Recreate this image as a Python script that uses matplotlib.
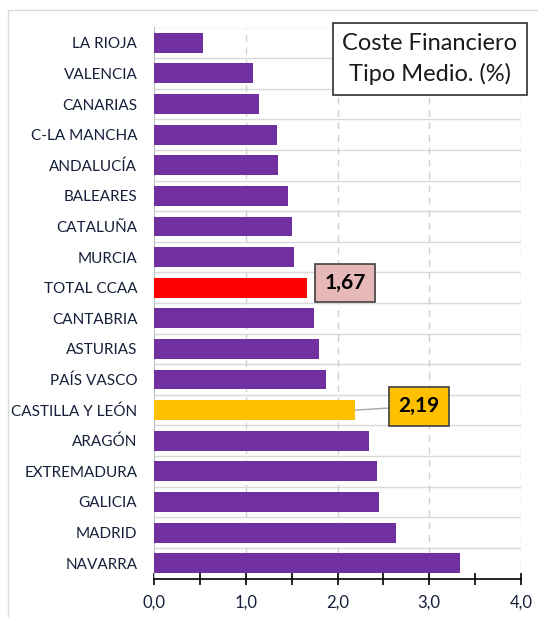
import matplotlib.pyplot as plt
from matplotlib.patches import Rectangle
from matplotlib.ticker import MultipleLocator, FuncFormatter

regiones = ['LA RIOJA', 'VALENCIA', 'CANARIAS', 'C-LA MANCHA', 'ANDALUCÍA',
            'BALEARES', 'CATALUÑA', 'MURCIA', 'TOTAL CCAA', 'CANTABRIA',
            'ASTURIAS', 'PAÍS VASCO', 'CASTILLA Y LEÓN', 'ARAGÓN',
            'EXTREMADURA', 'GALICIA', 'MADRID', 'NAVARRA']
tipo_medio = [0.53, 1.08, 1.14, 1.34, 1.35, 1.46, 1.50, 1.53, 1.67, 1.74,
              1.80, 1.88, 2.19, 2.34, 2.43, 2.45, 2.64, 3.34]

PURPLE = '#7030A0'
LABEL_COLOR = '#17203a'
colores = [PURPLE] * len(regiones)
colores[regiones.index('TOTAL CCAA')] = '#FF0000'
colores[regiones.index('CASTILLA Y LEÓN')] = '#FFC000'

plt.rcParams['font.family'] = ['Lato', 'DejaVu Sans']

fig = plt.figure(figsize=(5.38, 6.17), dpi=100)
# outer chart frame
fig.patches.append(Rectangle((8 / 538, -0.01), 1.0, 1 - 10 / 617 + 0.01,
                             transform=fig.transFigure, fill=False,
                             edgecolor='#d9d9d9', lw=1.0))

ax = fig.add_axes([154 / 538, 1 - 578.5 / 617, 367 / 538, 551 / 617])
pos = list(range(len(regiones)))
ax.barh(pos, tipo_medio, height=0.65, color=colores, zorder=3)

ax.set_xlim(0, 4)
ax.set_ylim(len(regiones) - 0.5, -0.5)

# horizontal category separators
for b in range(len(regiones)):
    ax.axhline(b - 0.5, color='#d9d9d9', lw=1.0, zorder=1)
for v in [1, 2, 3, 4]:
    ax.axvline(v, color='#d0d0d0', lw=1.0, ls=(0, (5, 4)), zorder=1)

ax.set_yticks(pos)
ax.set_yticklabels(regiones, fontsize=11, color=LABEL_COLOR)
ax.tick_params(axis='y', length=0, pad=12)

ax.xaxis.set_major_locator(MultipleLocator(1.0))
ax.xaxis.set_minor_locator(MultipleLocator(0.5))
ax.xaxis.set_major_formatter(FuncFormatter(lambda v, p: f'{v:.1f}'.replace('.', ',')))
ax.tick_params(axis='x', which='both', direction='inout', length=9, width=1.2,
               labelsize=12, labelcolor=LABEL_COLOR, pad=7)

for s in ['top', 'right']:
    ax.spines[s].set_visible(False)
ax.spines['left'].set_color('#bfbfbf')
ax.spines['bottom'].set_color('black')
ax.spines['bottom'].set_linewidth(1.2)

i_total = regiones.index('TOTAL CCAA')
ax.text(2.08, i_total - 0.15, f'{tipo_medio[i_total]:.2f}'.replace('.', ','),
        ha='center', va='center', fontsize=15, fontweight='bold', color='black',
        zorder=5, bbox=dict(boxstyle='square,pad=0.45', fc='#E6B8B7', ec='#404040', lw=1.2))

i_cyl = regiones.index('CASTILLA Y LEÓN')
ax.annotate(f'{tipo_medio[i_cyl]:.2f}'.replace('.', ','), xy=(tipo_medio[i_cyl], i_cyl),
            xytext=(2.89, i_cyl - 0.13), ha='center', va='center', fontsize=15,
            fontweight='bold', color='black', zorder=5,
            bbox=dict(boxstyle='square,pad=0.45', fc='#FFC000', ec='#404040', lw=1.2),
            arrowprops=dict(arrowstyle='-', color='#a6a6a6', lw=1.0,
                            shrinkA=0, shrinkB=0))

fig.text(430 / 538, 1 - 59 / 617, 'Coste Financiero\nTipo Medio. (%)',
         ha='center', va='center', fontsize=17, color='#1a1a1a', linespacing=1.5,
         bbox=dict(boxstyle='square,pad=0.4', fc='white', ec='#303030', lw=1.2))

fig.savefig('out.png', dpi=100)
